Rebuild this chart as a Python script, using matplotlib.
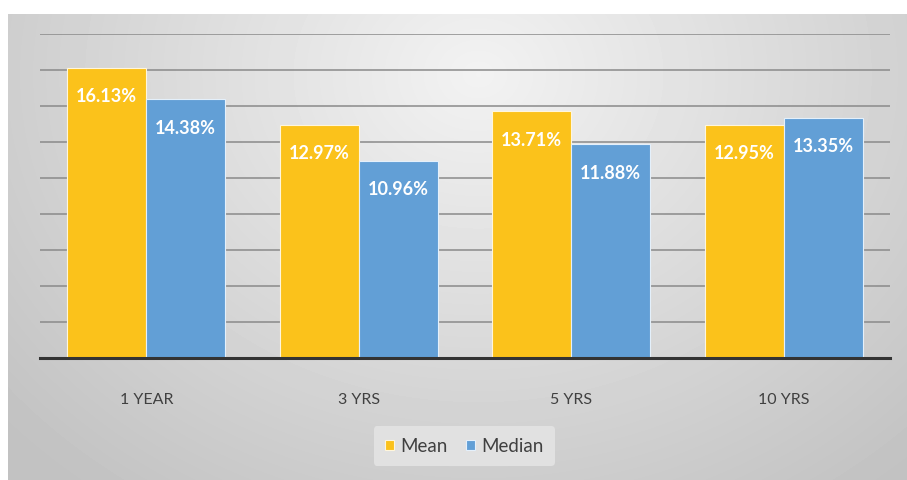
import numpy as np
import matplotlib.pyplot as plt

periods = ["1 YEAR", "3 YRS", "5 YRS", "10 YRS"]
mean_vals = [16.13, 12.97, 13.71, 12.95]
median_vals = [14.38, 10.96, 11.88, 13.35]

YELLOW = "#FBC21B"
BLUE = "#629FD6"

plt.rcParams['font.family'] = ['Lato', 'DejaVu Sans']

fig = plt.figure(figsize=(9.07, 4.80), dpi=100)
fig.patch.set_facecolor("white")

# gray radial backdrop, brightest near the top middle
bg = fig.add_axes([8 / 907, 0, 899 / 907, 466 / 480])
bg.set_axis_off()
yy, xx = np.mgrid[0:466, 0:899]
d = np.sqrt(((xx - 470) / 600.0) ** 2 + ((yy - 60) / 500.0) ** 2)
shade = np.clip(0.95 - 0.18 * d, 0.76, 0.95)
bg.imshow(shade, cmap="gray", vmin=0, vmax=1, aspect="auto",
          extent=[0, 1, 0, 1], origin="upper", interpolation="bilinear")
bg.set_xlim(0, 1)
bg.set_ylim(0, 1)

ax = fig.add_axes([40 / 907, 122 / 480, 850 / 907, 324 / 480])
ax.patch.set_alpha(0)

x = np.arange(len(periods))
w = 0.372
b1 = ax.bar(x - w / 2, mean_vals, w, color=YELLOW, edgecolor="#fff6dc",
            linewidth=0.8, label="Mean", zorder=3)
b2 = ax.bar(x + w / 2, median_vals, w, color=BLUE, edgecolor="#e4f0fb",
            linewidth=0.8, label="Median", zorder=3)

# value labels sit inside each bar, just below its top
for bars, vals in ((b1, mean_vals), (b2, median_vals)):
    for r, v in zip(bars, vals):
        ax.annotate(f"{v:.2f}%", (r.get_x() + r.get_width() / 2, v),
                    xytext=(0, -29), textcoords="offset pixels",
                    ha="center", va="center", color="white",
                    fontsize=13, fontweight="bold", zorder=4)

ax.set_xlim(-0.5, 3.5)
ax.set_ylim(0, 18)
ax.set_yticks(np.arange(2, 19, 2))
ax.yaxis.grid(True, color="#8a8a8a", linewidth=1.1, zorder=0)
ax.tick_params(axis="y", left=False, labelleft=False)
ax.tick_params(axis="x", bottom=False, pad=22, labelsize=11.5, labelcolor="#404040")
ax.set_xticks(x)
ax.set_xticklabels(periods)
for s in ("top", "right", "left"):
    ax.spines[s].set_visible(False)
ax.spines["bottom"].set_color("#333333")
ax.spines["bottom"].set_linewidth(2.2)
ax.spines["bottom"].set_zorder(5)

leg = fig.legend(handles=[b1, b2], loc="center", bbox_to_anchor=(464 / 907, 1 - 446 / 480),
                 ncol=2, frameon=True, fontsize=13.5, handlelength=0.5, handleheight=0.5,
                 handletextpad=0.3, columnspacing=1.0, borderpad=0.6)
leg.get_frame().set_facecolor("#e6e6e6")
leg.get_frame().set_edgecolor("none")
leg.get_frame().set_alpha(0.8)
for t in leg.get_texts():
    t.set_color("#404040")

fig.savefig("out.png", dpi=100)
